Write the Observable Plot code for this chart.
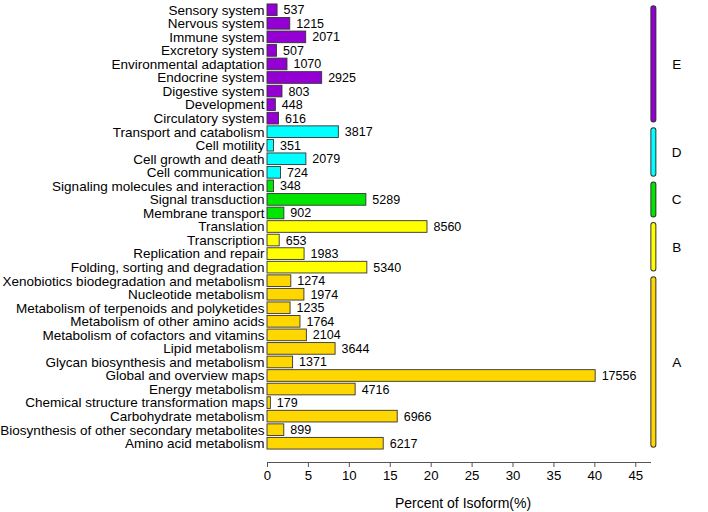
<!DOCTYPE html>
<html><head><meta charset="utf-8">
<script src="https://cdn.jsdelivr.net/npm/d3@7"></script>
<script src="https://cdn.jsdelivr.net/npm/@observablehq/plot@0.6"></script>
<style>body{margin:0;background:#fff} svg{display:block}</style>
</head><body><div id="chart"></div>
<script>
const categories = [
  "Sensory system","Nervous system","Immune system","Excretory system","Environmental adaptation",
  "Endocrine system","Digestive system","Development","Circulatory system",
  "Transport and catabolism","Cell motility","Cell growth and death","Cell communication",
  "Signaling molecules and interaction","Signal transduction","Membrane transport",
  "Translation","Transcription","Replication and repair","Folding, sorting and degradation",
  "Xenobiotics biodegradation and metabolism","Nucleotide metabolism","Metabolism of terpenoids and polyketides",
  "Metabolism of other amino acids","Metabolism of cofactors and vitamins","Lipid metabolism",
  "Glycan biosynthesis and metabolism","Global and overview maps","Energy metabolism",
  "Chemical structure transformation maps","Carbohydrate metabolism",
  "Biosynthesis of other secondary metabolites","Amino acid metabolism"
];
const counts = [537,1215,2071,507,1070,2925,803,448,616,
  3817,351,2079,724,
  348,5289,902,
  8560,653,1983,5340,
  1274,1974,1235,1764,2104,3644,1371,17556,4716,179,6966,899,6217];
const percents = [1.23,2.78,4.73,1.16,2.44,6.68,1.83,1.02,1.41,
  8.72,0.80,4.75,1.65,
  0.79,12.08,2.06,
  19.55,1.49,4.53,12.20,
  2.91,4.51,2.82,4.03,4.81,8.32,3.13,40.10,10.77,0.41,15.91,2.05,14.20];
const classes = ["E","E","E","E","E","E","E","E","E",
  "D","D","D","D",
  "C","C","C",
  "B","B","B","B",
  "A","A","A","A","A","A","A","A","A","A","A","A","A"];
const groupNames = ["E","D","C","B","A"];
const groupColors = ["#9400D3","#00FFFF","#00E600","#FFFF00","#FFD700"];
const xTicks = [0,5,10,15,20,25,30,35,40,45];
const xTitle = "Percent of Isoform(%)";

const rows = categories.map((name, i) => ({name, i, count: counts[i], pct: percents[i], cls: classes[i]}));
const groups = groupNames.map(g => {
  const idx = rows.filter(r => r.cls === g).map(r => r.i);
  return {name: g, first: d3.min(idx), last: d3.max(idx)};
});

const chart = Plot.plot({
  width: 708, height: 512,
  marginLeft: 267, marginRight: 58, marginTop: 3, marginBottom: 50,
  style: {fontFamily: "Arial, 'Liberation Sans', sans-serif", fontSize: "13px", color: "#000", background: "#fff"},
  x: {domain: [0, 46.8]},
  y: {domain: [-0.5, 32.5], reverse: true, insetBottom: 12},
  color: {domain: groupNames, range: groupColors},
  marks: [
    Plot.rectX(rows, {x1: 0, x2: "pct", y1: d => d.i - 0.43, y2: d => d.i + 0.43, fill: "cls", stroke: "#333", strokeWidth: 0.9}),
    Plot.text(rows, {x: "pct", y: "i", text: d => String(d.count), textAnchor: "start", dx: 6, fontSize: 12.5, fill: "#000"}),
    Plot.ruleX(groups, {x: 47.15, y1: d => d.first - 0.33, y2: d => d.last + 0.33, stroke: "#333", strokeWidth: 6, strokeLinecap: "round", insetTop: 3, insetBottom: 3}),
    Plot.ruleX(groups, {x: 47.15, y1: d => d.first - 0.33, y2: d => d.last + 0.33, stroke: "name", strokeWidth: 4, strokeLinecap: "round", insetTop: 3, insetBottom: 3}),
    Plot.text(groups, {x: 50, y: d => (d.first + d.last) / 2, text: "name", fontSize: 13.5, fill: "#000"}),
    Plot.axisY({ticks: rows.map(r => r.i), tickFormat: i => categories[i], tickSize: 0, tickPadding: 3, fontSize: 13.5, label: null, fill: "#000"}),
    Plot.axisX({ticks: xTicks, tickSize: 5, tickPadding: 3, fontSize: 13.2, label: null, stroke: "#555", fill: "#000"}),
    Plot.text([xTitle], {frameAnchor: "bottom", dx: 4, dy: 45, text: d => d, fontSize: 14, fill: "#000"}),
    Plot.frame({anchor: "bottom", stroke: "#555"})
  ]
});
document.getElementById("chart").appendChild(chart);
</script>
</body></html>
